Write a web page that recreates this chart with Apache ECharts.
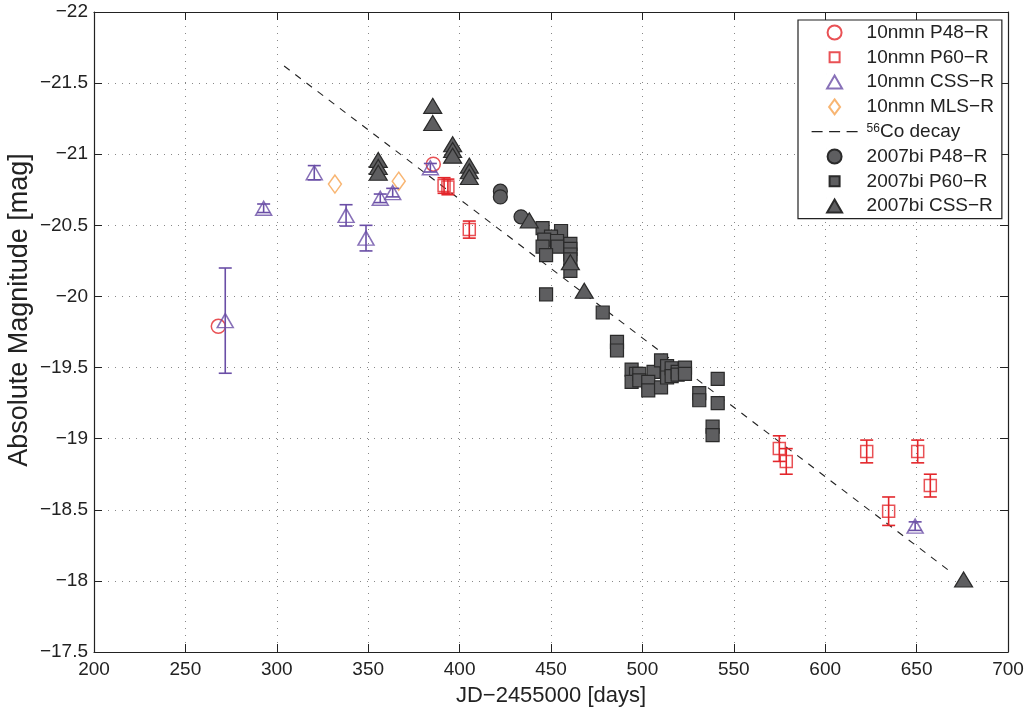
<!DOCTYPE html>
<html>
<head>
<meta charset="utf-8">
<script src="https://cdn.jsdelivr.net/npm/echarts@6/dist/echarts.min.js"></script>
<style>
html,body{margin:0;padding:0;background:#fff;}
#chart{width:1031px;height:707px;}
</style>
</head>
<body>
<div id="chart"></div>
<script>
// ---- data: [JD-2455000, absolute magnitude, error] ----
const xTicks = [200, 250, 300, 350, 400, 450, 500, 550, 600, 650, 700];
const yTicks = [-22, -21.5, -21, -20.5, -20, -19.5, -19, -18.5, -18, -17.5];

const nmnP48 = [[268.0, -19.79], [385.6, -20.93]];
const nmnP60 = [
  [391.5, -20.78, 0.055], [393.6, -20.77, 0.055], [405.3, -20.47, 0.06],
  [574.9, -18.93, 0.09], [578.7, -18.84, 0.09], [622.7, -18.91, 0.08],
  [634.7, -18.49, 0.10], [650.6, -18.91, 0.08], [657.5, -18.67, 0.08]
];
const nmnCSS = [
  [271.8, -19.83, 0.37], [292.8, -20.62, 0.03], [320.5, -20.87, 0.05],
  [337.9, -20.57, 0.075], [348.8, -20.41, 0.09], [356.6, -20.69, 0.03],
  [363.4, -20.73, 0.03], [384.0, -20.905, 0.03], [649.2, -18.385, 0.03]
];
const nmnMLS = [[331.8, -20.79], [366.7, -20.81]];
const coDecay = [[304.0, -21.62], [668.0, -18.07]];
const biP48 = [[422.3, -20.74], [422.3, -20.70], [433.6, -20.56]];
const biP60 = [
  [445.4, -20.48], [455.5, -20.46], [450.0, -20.42], [446.3, -20.40], [453.3, -20.39],
  [453.6, -20.35], [445.4, -20.35], [447.3, -20.29], [460.6, -20.37], [460.6, -20.335],
  [460.6, -20.295], [460.6, -20.26], [460.6, -20.18], [447.3, -20.015],
  [478.3, -19.887], [486.1, -19.68], [486.1, -19.62],
  [494.1, -19.486], [496.5, -19.456], [494.1, -19.40], [498.3, -19.456], [498.3, -19.41],
  [506.1, -19.47], [503.2, -19.40], [503.2, -19.34], [510.2, -19.55], [510.2, -19.36],
  [513.5, -19.51], [513.5, -19.43], [516.0, -19.495], [516.0, -19.44],
  [519.3, -19.47], [519.3, -19.45], [523.3, -19.50], [523.3, -19.456],
  [531.1, -19.32], [531.1, -19.27], [541.2, -19.42], [541.2, -19.25],
  [538.4, -19.084], [538.4, -19.025]
];
const biCSS = [
  [355.5, -20.96], [355.5, -20.91], [355.5, -20.87], [385.3, -21.34], [385.3, -21.22],
  [396.2, -21.07], [396.2, -21.03], [396.2, -20.99], [405.3, -20.92], [405.3, -20.88],
  [405.3, -20.84], [438.1, -20.535], [460.6, -20.24], [468.2, -20.04], [675.7, -18.01]
];

const RED = '#e3262b', PURPLE = '#6a4ea6', ORANGE = '#f6a34f', GRAYF = '#5e5e60', GRAYB = '#2a2a2a';
const FONT = '"Liberation Sans", Arial, Helvetica, sans-serif';
const fmt = v => String(v).replace('-', '\u2212');

// legend icon shapes (drawn inside a 16x16 box, centred in the legend slot)
const PAD = ' M0,0 L0.01,0 M16,16 L16.01,16';
const ICON_CIRCLE = 'path://M8,1 A7,7 0 1,1 8,15 A7,7 0 1,1 8,1 Z' + PAD;
const ICON_SQUARE = 'path://M3,3 L13,3 L13,13 L3,13 Z' + PAD;
const ICON_TRI = 'path://M8,1.5 L15.5,14.5 L0.5,14.5 Z' + PAD;
const ICON_DIAMOND = 'path://M8,0.5 L13.5,8 L8,15.5 L2.5,8 Z' + PAD;

function errBars(data, color) {
  return {
    type: 'custom', name: 'err', silent: true, z: 6,
    data: data,
    encode: { x: 0, y: 1 },
    renderItem: function (params, api) {
      const x = api.value(0), y = api.value(1), e = api.value(2);
      const a = api.coord([x, y - e]), b = api.coord([x, y + e]);
      const hw = 6.5;
      const st = { stroke: color, lineWidth: 1.6 };
      return { type: 'group', children: [
        { type: 'line', shape: { x1: a[0], y1: a[1], x2: b[0], y2: b[1] }, style: st },
        { type: 'line', shape: { x1: a[0] - hw, y1: a[1], x2: a[0] + hw, y2: a[1] }, style: st },
        { type: 'line', shape: { x1: b[0] - hw, y1: b[1], x2: b[0] + hw, y2: b[1] }, style: st }
      ]};
    }
  };
}

const hollow = c => ({ color: 'rgba(255,255,255,0)', borderColor: c, borderWidth: 1.5 });
const filled = { color: GRAYF, borderColor: GRAYB, borderWidth: 1.2, opacity: 1 };

const chart = echarts.init(document.getElementById('chart'));
chart.setOption({
  animation: false,
  textStyle: { fontFamily: FONT },
  grid: { left: 94, right: 23, top: 12, bottom: 55, containLabel: false, outerBoundsMode: 'none' },
  xAxis: [{
    type: 'value', min: 200, max: 700, interval: 50, position: 'bottom',
    name: 'JD\u22122455000 [days]', nameLocation: 'middle', nameGap: 33, nameMoveOverlap: false,
    nameTextStyle: { fontSize: 22, color: '#222', fontFamily: FONT },
    axisLine: { show: true, onZero: false, lineStyle: { color: '#222', width: 1.2 } },
    axisTick: { show: true, inside: true, length: 8, lineStyle: { color: '#222' } },
    axisLabel: { fontSize: 19, color: '#222', margin: 8, formatter: fmt },
    splitLine: { show: true, lineStyle: { color: '#888', type: [1, 6], width: 1 } }
  }, {
    type: 'value', min: 200, max: 700, interval: 50, position: 'top',
    axisLine: { show: true, onZero: false, lineStyle: { color: '#222', width: 1.2 } },
    axisTick: { show: true, inside: true, length: 8, lineStyle: { color: '#222' } },
    axisLabel: { show: false }, splitLine: { show: false }
  }],
  yAxis: [{
    type: 'value', min: -22, max: -17.5, interval: 0.5, inverse: true, position: 'left',
    name: 'Absolute Magnitude [mag]', nameLocation: 'middle', nameGap: 61, nameMoveOverlap: false,
    nameTextStyle: { fontSize: 27, color: '#222', fontFamily: FONT, padding: [0, 0, 0, 44] },
    axisLine: { show: true, onZero: false, lineStyle: { color: '#222', width: 1.2 } },
    axisTick: { show: true, inside: true, length: 8, lineStyle: { color: '#222' } },
    axisLabel: { fontSize: 19, color: '#222', margin: 6, formatter: fmt },
    splitLine: { show: true, lineStyle: { color: '#888', type: [1, 6], width: 1 } }
  }, {
    type: 'value', min: -22, max: -17.5, interval: 0.5, inverse: true, position: 'right',
    axisLine: { show: true, onZero: false, lineStyle: { color: '#222', width: 1.2 } },
    axisTick: { show: true, inside: true, length: 8, lineStyle: { color: '#222' } },
    axisLabel: { show: false }, splitLine: { show: false }
  }],
  legend: {
    orient: 'vertical', left: 798, top: 20,
    backgroundColor: '#fff', borderColor: '#222', borderWidth: 1.2,
    padding: [3, 8, 3, 13], itemGap: 5.8, itemWidth: 46, itemHeight: 16,
    textStyle: { fontSize: 19, color: '#222', fontFamily: FONT, padding: [0, 0, 0, 4],
      rich: { sup: { fontSize: 12, color: '#222', padding: [0, 0, 7, 0], fontFamily: FONT },
              n: { fontSize: 19, color: '#222', fontFamily: FONT } } },
    formatter: function (name) {
      if (name === '56Co decay') return '{sup|56}{n|Co decay}';
      return name;
    },
    data: [
      { name: '10nmn P48\u2212R', icon: ICON_CIRCLE },
      { name: '10nmn P60\u2212R', icon: ICON_SQUARE },
      { name: '10nmn CSS\u2212R', icon: ICON_TRI },
      { name: '10nmn MLS\u2212R', icon: ICON_DIAMOND },
      { name: '56Co decay', itemStyle: { color: 'rgba(0,0,0,0)', borderWidth: 0, opacity: 0 },
        lineStyle: { color: '#222', width: 1.2, type: [11, 6.5] } },
      { name: '2007bi P48\u2212R', icon: ICON_CIRCLE },
      { name: '2007bi P60\u2212R', icon: ICON_SQUARE },
      { name: '2007bi CSS\u2212R', icon: ICON_TRI }
    ]
  },
  series: [
    { type: 'line', name: '56Co decay', data: coDecay, symbol: 'none', z: 2,
      lineStyle: { color: '#222', width: 1.1, type: [7, 7] }, itemStyle: { color: '#222' } },
    { type: 'scatter', name: '2007bi P48\u2212R', data: biP48, symbol: 'circle', symbolSize: 14, itemStyle: filled, z: 3 },
    { type: 'scatter', name: '2007bi P60\u2212R', data: biP60, symbol: 'rect', symbolSize: 13, itemStyle: filled, z: 3 },
    { type: 'scatter', name: '2007bi CSS\u2212R', data: biCSS, symbol: 'triangle', symbolSize: [18, 15], itemStyle: filled, z: 3 },
    { type: 'scatter', name: '10nmn P48\u2212R', data: nmnP48, symbol: 'circle', symbolSize: 14, itemStyle: hollow(RED), z: 5 },
    { type: 'scatter', name: '10nmn P60\u2212R', data: nmnP60, symbol: 'rect', symbolSize: 12, itemStyle: hollow(RED), z: 5 },
    { type: 'scatter', name: '10nmn CSS\u2212R', data: nmnCSS, symbol: 'triangle', symbolSize: [16, 14], itemStyle: hollow(PURPLE), z: 5 },
    { type: 'scatter', name: '10nmn MLS\u2212R', data: nmnMLS, symbol: 'diamond', symbolSize: [13, 18], itemStyle: hollow(ORANGE), z: 5 },
    errBars(nmnP60, RED),
    errBars(nmnCSS, PURPLE)
  ]
});
</script>
</body>
</html>
